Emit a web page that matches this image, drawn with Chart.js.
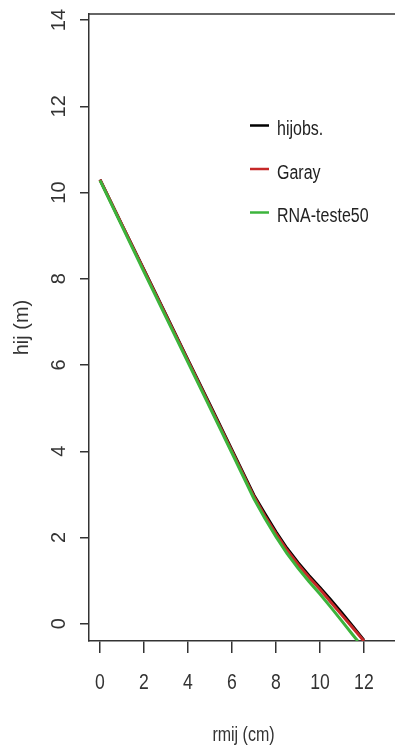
<!DOCTYPE html>
<html>
<head>
<meta charset="utf-8">
<script src="https://cdn.jsdelivr.net/npm/chart.js@4.4.1/dist/chart.umd.min.js"></script>
<style>
  body { margin: 0; background: #fff; overflow: hidden; }
</style>
</head>
<body>
<canvas id="taper" width="398" height="750"></canvas>
<script>
// taper curve: radius (cm) vs height (m)
const seriesNames = ['hijobs.', 'Garay', 'RNA-teste50'];
const seriesColors = ['#000000', '#c62828', '#3cb43c'];

const obsRadius = [0, 1, 2, 3, 4, 5, 6, 7, 7.5, 8, 8.5, 9, 9.5, 10, 10.5, 11, 11.5, 12];
const obsHeight = [10.3, 9.25, 8.21, 7.17, 6.12, 5.08, 4.03, 2.98, 2.55, 2.13, 1.75, 1.42, 1.12, 0.84, 0.55, 0.25, -0.06, -0.38];

const garayRadius = [0, 1, 2, 3, 4, 5, 6, 7, 7.5, 8, 8.5, 9, 9.5, 10, 10.5, 11, 11.5, 12];
const garayHeight = [10.3, 9.25, 8.2, 7.15, 6.1, 5.05, 4.0, 2.95, 2.5, 2.09, 1.71, 1.38, 1.08, 0.8, 0.5, 0.2, -0.1, -0.4];

const rnaRadius = [0, 1, 2, 3, 4, 5, 6, 7, 7.5, 8, 8.5, 9, 9.5, 10, 10.5, 11, 11.5, 11.72];
const rnaHeight = [10.28, 9.22, 8.16, 7.11, 6.06, 5.01, 3.96, 2.9, 2.44, 2.02, 1.63, 1.29, 0.98, 0.69, 0.38, 0.06, -0.26, -0.4];

const xTickValues = [0, 2, 4, 6, 8, 10, 12];
const yTickValues = [0, 2, 4, 6, 8, 10, 12, 14];

const fontFamily = '"Liberation Sans", Arial, sans-serif';
const axisColor = '#333';
const squeeze = 0.8; // the horizontal texts look condensed in the original

function toPoints(xs, ys) {
    return xs.map((x, i) => ({ x: x, y: ys[i] }));
}

// condensed text, no narrow font installed so scale it
function narrowText(ctx, text, x, y, align) {
    ctx.save();
    ctx.translate(x, y);
    ctx.scale(squeeze, 1);
    ctx.textAlign = align;
    ctx.fillText(text, 0, 0);
    ctx.restore();
}

// tick labels and x title drawn by hand
const axisText = {
    id: 'axisText',
    afterDraw: (chart) => {
        const ctx = chart.ctx;
        const x = chart.scales.x;
        const y = chart.scales.y;
        ctx.save();
        ctx.fillStyle = axisColor;

        // y labels are turned sideways like in R
        ctx.font = '20px ' + fontFamily;
        ctx.textAlign = 'center';
        ctx.textBaseline = 'middle';
        yTickValues.forEach((v) => {
            ctx.save();
            ctx.translate(59, y.getPixelForValue(v));
            ctx.rotate(-Math.PI / 2);
            ctx.fillText(String(v), 0, 0);
            ctx.restore();
        });

        ctx.font = '22px ' + fontFamily;
        ctx.textBaseline = 'alphabetic';
        xTickValues.forEach((v) => {
            narrowText(ctx, String(v), x.getPixelForValue(v), 689, 'center');
        });

        ctx.font = '20px ' + fontFamily;
        narrowText(ctx, 'rmij (cm)', (x.left + x.right) / 2, 741, 'center');
        ctx.restore();
    }
};

// top edge of the box
const boxTop = {
    id: 'boxTop',
    afterDraw: (chart) => {
        const ctx = chart.ctx;
        const area = chart.chartArea;
        ctx.save();
        ctx.strokeStyle = axisColor;
        ctx.lineWidth = 1.5;
        ctx.beginPath();
        ctx.moveTo(area.left, area.top);
        ctx.lineTo(area.right, area.top);
        ctx.stroke();
        ctx.restore();
    }
};

// legend inside the plot
const innerLegend = {
    id: 'innerLegend',
    afterDraw: (chart) => {
        const ctx = chart.ctx;
        const baselines = [135, 178.5, 222];
        ctx.save();
        ctx.font = '20px ' + fontFamily;
        ctx.textBaseline = 'alphabetic';
        chart.data.datasets.forEach((ds, i) => {
            const my = baselines[i] - 9.5;
            ctx.strokeStyle = ds.borderColor;
            ctx.lineWidth = 2.5;
            ctx.beginPath();
            ctx.moveTo(250, my);
            ctx.lineTo(269, my);
            ctx.stroke();
            ctx.fillStyle = '#222';
            narrowText(ctx, ds.label, 277, baselines[i], 'left');
        });
        ctx.restore();
    }
};

const ctx = document.getElementById('taper').getContext('2d');
const taperChart = new Chart(ctx, {
    type: 'scatter',
    data: {
        datasets: [
            { label: seriesNames[0], data: toPoints(obsRadius, obsHeight), borderColor: seriesColors[0], order: 3 },
            { label: seriesNames[1], data: toPoints(garayRadius, garayHeight), borderColor: seriesColors[1], order: 2 },
            { label: seriesNames[2], data: toPoints(rnaRadius, rnaHeight), borderColor: seriesColors[2], order: 1 }
        ]
    },
    options: {
        responsive: false,
        animation: false,
        devicePixelRatio: 1,
        showLine: true,
        elements: {
            point: { radius: 0 },
            line: { borderWidth: 3, tension: 0, fill: false }
        },
        layout: { padding: { top: 14, left: 0, right: 0, bottom: 0 } },
        plugins: {
            legend: { display: false },
            tooltip: { enabled: false }
        },
        scales: {
            x: {
                type: 'linear',
                min: -0.5,
                max: 13.55,
                afterBuildTicks: (s) => { s.ticks = xTickValues.map(v => ({ value: v })); },
                afterFit: (s) => { s.height = 109; },
                grid: { drawOnChartArea: false, tickLength: 12, color: axisColor, lineWidth: 1.5 },
                border: { color: axisColor, width: 1.5 },
                ticks: { display: false }
            },
            y: {
                type: 'linear',
                min: -0.4,
                max: 14.14,
                afterBuildTicks: (s) => { s.ticks = yTickValues.map(v => ({ value: v })); },
                afterFit: (s) => { s.width = 89; },
                grid: { drawOnChartArea: false, tickLength: 9, color: axisColor, lineWidth: 1.5 },
                border: { color: axisColor, width: 1.5 },
                ticks: { display: false },
                title: { display: true, text: 'hij (m)', color: axisColor, font: { family: fontFamily, size: 20 }, padding: { top: 10, bottom: 0 } }
            }
        }
    },
    plugins: [axisText, boxTop, innerLegend]
});
</script>
</body>
</html>
